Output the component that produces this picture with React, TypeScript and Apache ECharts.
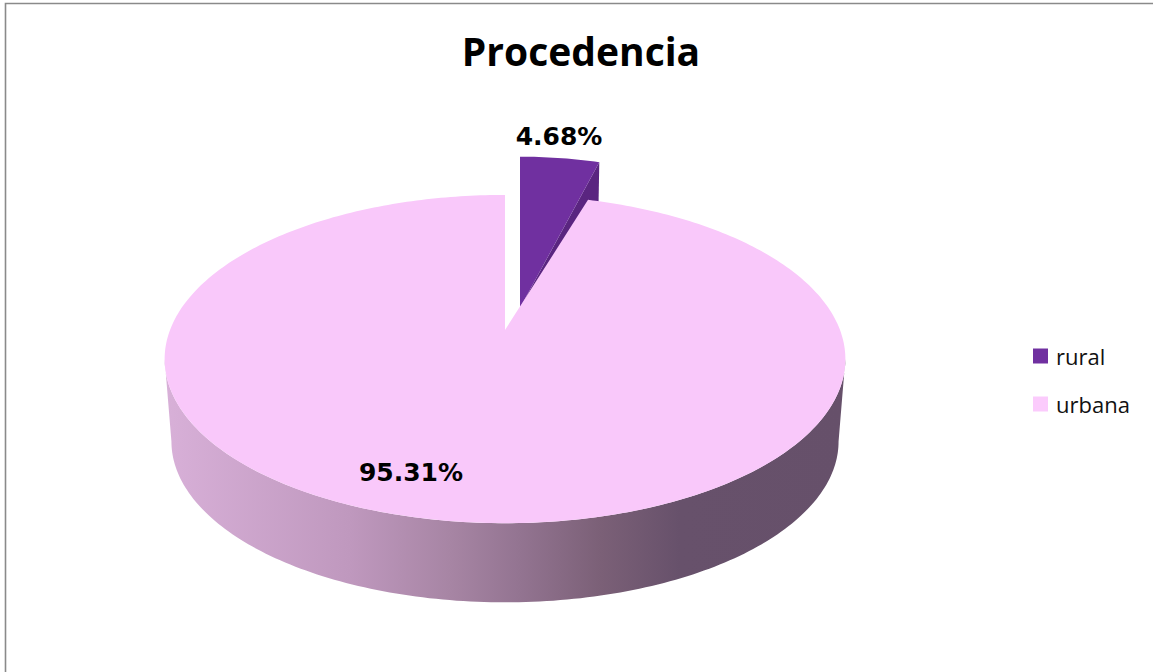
import React, { useEffect, useRef } from "react";
import * as echarts from "echarts";

const title = "Procedencia";
const categories = ["rural", "urbana"];
const values = [4.68, 95.31];
const topColors = ["#7030A0", "#F9C8FA"];
const cutColors = ["#5A2580", "#C9A0C9"];
const legendColors = ["#7030A0", "#FBCBFC"];

const W = 1153;
const H = 672;

// projection of the pie disc (perspective-like view)
const P = { cx: 505, cy: 330, A: 335, B: 159, k: 0.177, s: 0.98, depth: 83 };
// exploded offset / apparent scale of each slice
const EXPLODE = [
  { dx: 15, dy: -22, sx: 0.955, sy: 1.12 },
  { dx: 0, dy: 0, sx: 1, sy: 1 },
];
const LABEL_POS = [
  [559, 136],
  [411, 472],
];

const sideStops = [
  [
    { offset: 0, color: "#8A4AB8" },
    { offset: 1, color: "#4A1C6C" },
  ],
  [
    { offset: 0, color: "#D8B0D8" },
    { offset: 0.272, color: "#BF98BE" },
    { offset: 0.419, color: "#A785A4" },
    { offset: 0.522, color: "#937491" },
    { offset: 0.64, color: "#7B6077" },
    { offset: 0.757, color: "#67516B" },
    { offset: 1, color: "#66506A" },
  ],
];

const total = values.reduce((a, b) => a + b, 0);
const startAngles: number[] = [];
const endAngles: number[] = [];
{
  let acc = 0;
  values.forEach((v) => {
    startAngles.push((acc / total) * 360);
    acc += v;
    endAngles.push((acc / total) * 360);
  });
}

type Ex = { dx: number; dy: number; sx: number; sy: number };

function proj(u: number, v: number, ex: Ex, bottom: boolean): number[] {
  const d = 1 - P.k * v;
  const sc = bottom ? P.s : 1;
  return [
    P.cx + ex.dx + (P.A * ex.sx * sc * u) / d,
    P.cy + ex.dy + (P.B * ex.sy * sc * v) / d + (bottom ? P.depth : 0),
  ];
}
function rim(deg: number, ex: Ex, bottom: boolean) {
  const t = (deg * Math.PI) / 180;
  return proj(Math.sin(t), -Math.cos(t), ex, bottom);
}
function arc(a: number, b: number, ex: Ex, bottom: boolean) {
  const n = Math.max(2, Math.ceil(Math.abs(b - a)));
  const pts: number[][] = [];
  for (let j = 0; j <= n; j++) pts.push(rim(a + ((b - a) * j) / n, ex, bottom));
  return pts;
}

const silh = (Math.acos(-P.k) * 180) / Math.PI;

function makeRender(i: number) {
  return (params: any, api: any) => {
    const val = api.value(0);
    const a0 = startAngles[i];
    const a1 = endAngles[i];
    const ex = EXPLODE[i];
    const children: any[] = [];
    const apT = proj(0, 0, ex, false);
    const apB = proj(0, 0, ex, true);
    // cut faces
    const t0 = (a0 * Math.PI) / 180;
    const t1 = (a1 * Math.PI) / 180;
    if (-Math.sin(t0) > 1e-6) {
      const r = rim(a0, ex, false);
      const rb = rim(a0, ex, true);
      children.push({ type: "polygon", shape: { points: [apT, r, rb, apB] }, style: { fill: cutColors[i] } });
    }
    if (Math.sin(t1) > 1e-6) {
      const r = rim(a1, ex, false);
      const rb = rim(a1, ex, true);
      children.push({ type: "polygon", shape: { points: [apT, r, rb, apB] }, style: { fill: cutColors[i] } });
    }
    // outer side
    const lo = Math.max(a0, silh);
    const hi = Math.min(a1, 360 - silh);
    if (hi > lo) {
      const pts = arc(lo, hi, ex, false).concat(arc(hi, lo, ex, true));
      children.push({
        type: "polygon",
        shape: { points: pts },
        style: {
          fill: {
            type: "linear",
            x: 165,
            y: 0,
            x2: 845,
            y2: 0,
            global: true,
            colorStops: sideStops[i],
          },
        },
      });
    }
    // top face
    children.push({
      type: "polygon",
      shape: { points: [apT].concat(arc(a0, a1, ex, false)) },
      style: { fill: topColors[i] },
    });
    children.push({
      type: "text",
      style: {
        text: val.toFixed(2) + "%",
        x: LABEL_POS[i][0],
        y: LABEL_POS[i][1],
        align: "center",
        verticalAlign: "middle",
        fill: "#000",
        font: 'bold 25px "DejaVu Sans"',
      },
    });
    return { type: "group", children };
  };
}

export default function App() {
  const ref = useRef<HTMLDivElement>(null);
  useEffect(() => {
    const chart = echarts.init(ref.current!, null, { renderer: "svg" });
    chart.setOption({
      animation: false,
      backgroundColor: "#ffffff",
      title: {
        text: title,
        left: 581,
        textAlign: "center",
        top: 31,
        padding: 0,
        textStyle: { fontFamily: "Open Sans", fontWeight: "bold", fontSize: 39, color: "#000" },
      },
      legend: {
        orient: "vertical",
        left: 1033,
        top: 345,
        padding: 0,
        itemWidth: 15,
        itemHeight: 15,
        itemGap: 26,
        icon: "rect",
        data: categories,
        textStyle: { fontFamily: "Open Sans", fontSize: 22, color: "#111", padding: [0, 0, 0, 3] },
        selectedMode: false,
      },
      graphic: [
        {
          type: "rect",
          shape: { x: 5.5, y: 3.5, width: 1300, height: 800 },
          style: { fill: "none", stroke: "#8a8a8a", lineWidth: 1.6 },
          silent: true,
        },
      ],
      series: categories.map((name, i) => ({
        type: "custom",
        name,
        coordinateSystem: "none",
        itemStyle: { color: legendColors[i] },
        data: [[values[i]]],
        renderItem: makeRender(i),
      })),
    });
    return () => chart.dispose();
  }, []);
  return (
    <div
      ref={ref}
      style={{ position: "fixed", left: 0, top: 0, width: W, height: H, background: "#fff" }}
    />
  );
}
